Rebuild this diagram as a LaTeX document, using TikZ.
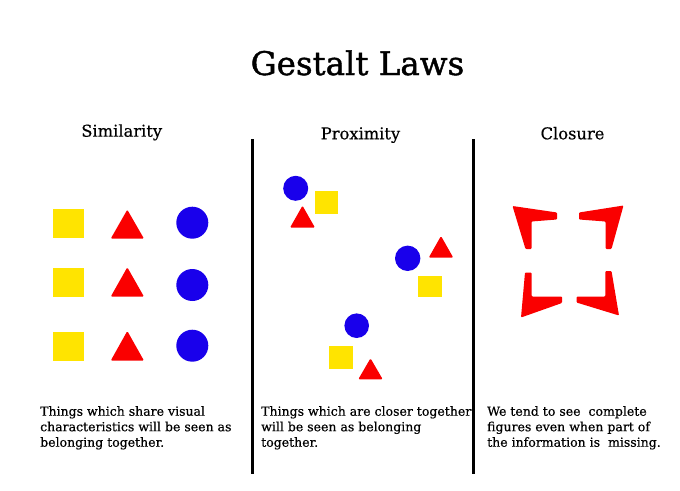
\documentclass[tikz,border=0pt]{standalone}
\usepackage{fontspec}
\setmainfont{DejaVu Serif}
\newfontfamily\titlefont[FakeBold=1.2]{DejaVu Serif}
\newfontfamily\headfont[FakeBold=0.4]{DejaVu Serif}
\newfontfamily\bodyfont[FakeBold=0.5]{DejaVu Serif}
\definecolor{gyellow}{RGB}{255,228,0}
\definecolor{gred}{RGB}{250,0,0}
\definecolor{gblue}{RGB}{25,0,235}
\tikzset{
  sq/.style={fill=gyellow},
  tri/.style={fill=gred, rounded corners=1.2pt},
  circ/.style={fill=gblue},
  corner/.style={fill=gred, rounded corners=1pt},
  divider/.style={line width=3pt, black},
  titletext/.style={font=\titlefont\fontsize{32.5}{36}\selectfont, inner sep=0pt},
  headtext/.style={font=\headfont\fontsize{16.3}{20}\selectfont, inner sep=0pt},
  bodytext/.style={font=\bodyfont\fontsize{12.5}{15.5}\selectfont, align=left, inner sep=0pt, anchor=north west}
}
\begin{document}
\begin{tikzpicture}[x=1pt,y=-1pt]
\useasboundingbox (0,0) rectangle (680,490);
\fill[white] (0,0) rectangle (680,490);

% title and headings
\node[titletext, anchor=base] (title) at (357.5,75) {Gestalt Laws};
\node[headtext, anchor=base] (hsim) at (121.7,136.7) {Similarity};
\node[headtext, anchor=base] (hprox) at (360.5,139.3) {Proximity};
\node[headtext, anchor=base] (hclos) at (572.5,139.3) {Closure};

% dividers
\coordinate (d1t) at (252.5,139);
\coordinate (d1b) at (252.5,474);
\coordinate (d2t) at (473.8,139);
\coordinate (d2b) at (473.8,474);
\draw[divider] (d1t) -- (d1b);
\draw[divider] (d2t) -- (d2b);

% similarity
\foreach \y/\yt/\yb/\cy in {209/209.7/238.7/222.7, 268.3/267.3/296.7/285, 332.3/331/360.7/345.7}{
  \fill[sq] (53.3,\y) rectangle ++(30.7,29);
  \fill[tri] (110.7,\yb) -- (127.3,\yt) -- (144,\yb) -- cycle;
  \fill[circ] (192.3,\cy) circle (16);
}

% proximity
\fill[circ] (295.7,188.3) circle (12.5);
\fill[sq] (315,190.7) rectangle (338.3,214);
\fill[tri] (290,227.7) -- (302.5,205.7) -- (315,227.7) -- cycle;

\fill[circ] (407.7,258.3) circle (12.7);
\fill[tri] (428.7,257.7) -- (441,236) -- (453.3,257.7) -- cycle;
\fill[sq] (418.3,276) rectangle (441.7,296.7);

\fill[circ] (356.7,325.7) circle (12.3);
\fill[sq] (329.3,345.7) rectangle (353.3,369.3);
\fill[tri] (358.3,379.3) -- (370.5,358.3) -- (382.7,379.3) -- cycle;

% closure
\fill[corner] (512.5,206) -- (557,212.5) -- (557,219.5) -- (531.5,221.5) -- (531.5,249) -- (525.5,249) -- cycle;
\fill[corner] (623.5,205.5) -- (579,212.5) -- (579,219.5) -- (605.5,221.5) -- (605.5,249) -- (611.5,249) -- cycle;
\fill[corner] (521,317.5) -- (525,272.5) -- (531.5,272.5) -- (531.5,296.5) -- (562,296.5) -- (562,303) -- cycle;
\fill[corner] (619,315.5) -- (611.5,271) -- (605.3,271) -- (605.3,296.5) -- (576.5,296.5) -- (576.5,302.5) -- cycle;

% body texts
\node[bodytext] (tsim) at (40,406) {Things which share visual\\characteristics will be seen as\\belonging together.};
\node[bodytext] (tprox) at (261,406) {Things which are closer together\\will be seen as belonging\\together.};
\node[bodytext] (tclos) at (487,406) {We tend to see\ \ complete\\figures even when part of\\the information is\ \ missing.};
\end{tikzpicture}
\end{document}
